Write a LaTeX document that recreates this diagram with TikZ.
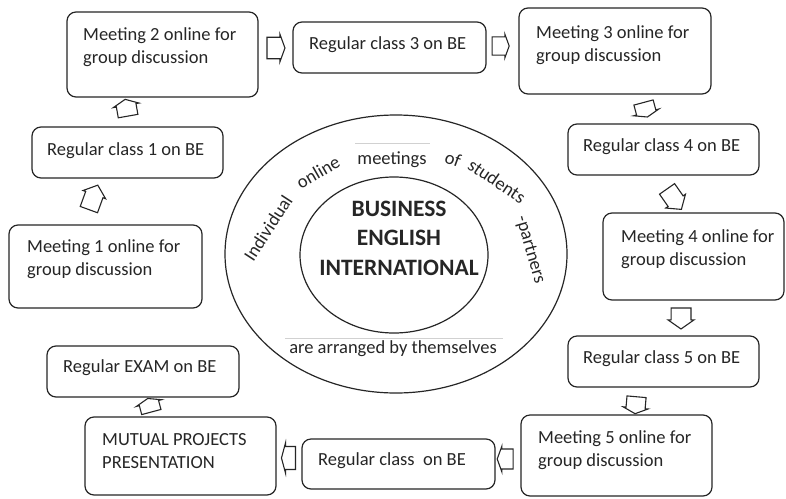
\documentclass[tikz,border=0pt]{standalone}
\usepackage{fontspec}
\setmainfont{Carlito}
\usetikzlibrary{shapes.geometric,shapes.arrows,calc}
\begin{document}
\begin{tikzpicture}[x=1pt,y=-1pt,
  box/.style={draw=black!85, line width=1.2pt, rounded corners=9pt, outer sep=0pt, inner sep=0pt},
  txt/.style={anchor=base west, inner sep=0pt, font=\fontsize{18.5}{23}\selectfont, align=left, text=black!85},
  ring/.style={inner sep=0pt, font=\fontsize{18.5}{22}\selectfont, text=black!85},
  oval/.style={draw=black!85, line width=1.2pt, ellipse, inner sep=0pt},
  barrow/.style={single arrow, draw=black!85, line width=1.1pt, fill=white, inner xsep=0pt, inner ysep=6pt, single arrow head extend=2pt, outer sep=0pt},
  faint/.style={draw=black!18, line width=0.8pt}
]
\useasboundingbox (0,0) rectangle (786,498);
\fill[white] (0,0) rectangle (786,498);

% central ellipses
\node[oval, minimum width=342pt, minimum height=278pt] (outer) at (396,254) {};
\node[oval, minimum width=188pt, minimum height=156pt] (inner) at (394,255) {};
\node[inner sep=0pt, align=center, font=\bfseries\fontsize{23.5}{29.5}\selectfont, text=black!85] (title) at (399,238) {BUSINESS\\ENGLISH\\INTERNATIONAL};

% ring words
\node[ring, rotate=57] (w1) at (268,228) {Individual};
\node[ring, rotate=30] (w2) at (318,172) {online};
\node[ring] (w3) at (392,160) {meetings};
\node[ring, rotate=-20] (w4) at (453,159) {of};
\node[ring, rotate=-34] (w5) at (497,181) {students};
\node[ring, rotate=-74] (w6) at (530,250) {-partners};
\node[ring, anchor=base] (w7) at (393,353) {are arranged by themselves};
\coordinate (f1a) at (355,143); \coordinate (f1b) at (430,143);
\coordinate (f2a) at (285,338); \coordinate (f2b) at (503,338);
\draw[faint] (f1a) -- (f1b);
\draw[faint] (f2a) -- (f2b);

% boxes
\node[box, minimum width=191pt, minimum height=85pt] (m2) at (162.5,54.5) {};
\node[box, minimum width=193pt, minimum height=51pt] (r3) at (389.5,47.5) {};
\node[box, minimum width=192pt, minimum height=86pt] (m3) at (615,51) {};
\node[box, minimum width=191pt, minimum height=51pt] (r1) at (127.5,152.5) {};
\node[box, minimum width=191pt, minimum height=51pt] (r4) at (663.5,149.5) {};
\node[box, minimum width=193pt, minimum height=83pt] (m1) at (105.5,266.5) {};
\node[box, minimum width=181pt, minimum height=87pt] (m4) at (693.5,256.5) {};
\node[box, minimum width=192pt, minimum height=51pt] (ex) at (143,371.5) {};
\node[box, minimum width=191pt, minimum height=51pt] (r5) at (663.5,361.5) {};
\node[box, minimum width=191pt, minimum height=78pt] (mu) at (180.5,456) {};
\node[box, minimum width=193pt, minimum height=50pt] (rc) at (398.5,464) {};
\node[box, minimum width=191pt, minimum height=81pt] (m5) at (616.5,455.5) {};

% box texts (base = baseline of the last line)
\node[txt] (m2t) at ($(m2.north west)+(16,51)$) {Meeting 2 online for\\group discussion};
\node[txt] (m3t) at ($(m3.north west)+(17,53)$) {Meeting 3 online for\\group discussion};
\node[txt] (m4t) at ($(m4.north west)+(18,52)$) {Meeting 4 online for\\group discussion};
\node[txt] (m1t) at ($(m1.north west)+(18,50)$) {Meeting 1 online for\\group discussion};
\node[txt] (m5t) at ($(m5.north west)+(17,51)$) {Meeting 5 online for\\group discussion};
\node[txt] (mut) at ($(mu.north west)+(17,51)$) {MUTUAL PROJECTS\\PRESENTATION};
\node[txt] (r3t) at ($(r3.north west)+(16,27)$) {Regular class 3 on BE};
\node[txt] (r1t) at ($(r1.north west)+(15,28)$) {Regular class 1 on BE};
\node[txt] (r4t) at ($(r4.north west)+(15,27)$) {Regular class 4 on BE};
\node[txt] (r5t) at ($(r5.north west)+(15,27)$) {Regular class 5 on BE};
\node[txt] (ext) at ($(ex.north west)+(16,26)$) {Regular EXAM on BE};
\node[txt] (rct) at ($(rc.north west)+(16,26)$) {Regular class\ \ on BE};

% hollow block arrows
\node[barrow, rotate=70, minimum height=26pt, minimum width=24pt, single arrow tip angle=100] (a1) at (92,201) {};
\node[barrow, rotate=100, minimum height=17pt, minimum width=26pt, single arrow tip angle=130] (a2) at (127,110) {};
\node[barrow, rotate=0, minimum height=18pt, minimum width=28pt, single arrow tip angle=140] (a3) at (274,48) {};
\node[barrow, rotate=0, minimum height=17pt, minimum width=24pt, single arrow tip angle=140] (a4) at (499,46) {};
\node[barrow, rotate=-75, minimum height=15pt, minimum width=26pt, single arrow tip angle=140] (a5) at (645,108) {};
\node[barrow, rotate=-55, minimum height=25pt, minimum width=24pt, single arrow tip angle=100] (a6) at (672,196) {};
\node[barrow, rotate=-90, minimum height=21pt, minimum width=26pt, single arrow tip angle=110] (a7) at (681,315) {};
\node[barrow, rotate=-95, minimum height=17pt, minimum width=25pt, single arrow tip angle=130] (a8) at (636,403) {};
\node[barrow, rotate=180, minimum height=16pt, minimum width=26pt, single arrow tip angle=140] (a9) at (507,459) {};
\node[barrow, rotate=180, minimum height=14pt, minimum width=30pt, single arrow tip angle=150] (a10) at (290,458) {};
\node[barrow, rotate=105, minimum height=14pt, minimum width=26pt, single arrow tip angle=140] (a11) at (150,407) {};
\end{tikzpicture}
\end{document}
